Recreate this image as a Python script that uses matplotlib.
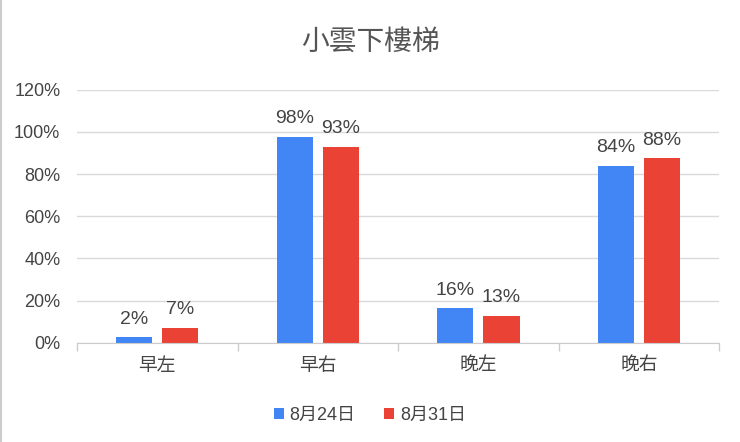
import matplotlib
matplotlib.use("Agg")
import matplotlib.pyplot as plt
from matplotlib.ticker import FixedLocator, PercentFormatter
import numpy as np

plt.rcParams['font.family'] = ['Liberation Sans', 'Noto Sans CJK TC', 'DejaVu Sans']

title = "小雲下樓梯"
categories = ["早左", "早右", "晚左", "晚右"]
series_names = ["8月24日", "8月31日"]
aug24 = [2.5, 97.7, 16.4, 84.0]
aug31 = [7.2, 93.0, 12.8, 87.5]
yticks = [0, 20, 40, 60, 80, 100, 120]

colors = ["#4285F4", "#EA4335"]
text_color = "#444444"

fig = plt.figure(figsize=(7.4, 4.42), dpi=100)
ax = fig.add_axes([0.104, 0.2247, 0.868, 0.5723])

x = np.arange(len(categories))
w = 0.225
off = 0.144
for vals, c, o, name in [(aug24, colors[0], -off, series_names[0]),
                         (aug31, colors[1], off, series_names[1])]:
    bars = ax.bar(x + o, vals, width=w, color=c, label=name, zorder=3)
    for b, v in zip(bars, vals):
        ax.text(b.get_x() + b.get_width() / 2, v + 4.4, f"{v:.0f}%",
                ha="center", va="bottom", fontsize=14, color=text_color,
                zorder=4)

ax.set_xlim(-0.5, len(categories) - 0.5)
ax.set_ylim(0, 120)
ax.set_yticks(yticks)
ax.yaxis.set_major_formatter(PercentFormatter(decimals=0))
ax.set_xticks(x)
ax.set_xticklabels(categories)
ax.xaxis.set_minor_locator(FixedLocator(np.arange(-0.5, len(categories), 1.0)))
ax.tick_params(axis="x", which="major", length=0, pad=11, labelsize=13.5,
               labelcolor=text_color)
ax.tick_params(axis="x", which="minor", length=6, width=1, color="#cccccc")
ax.tick_params(axis="y", length=0, pad=12, labelsize=13, labelcolor=text_color)
ax.grid(axis="y", color="#d9d9d9", linewidth=1, zorder=0)
for s in ["top", "right", "left"]:
    ax.spines[s].set_visible(False)
ax.spines["bottom"].set_color("#cccccc")
ax.spines["bottom"].set_zorder(5)

fig.text(0.5, 0.905, title, ha="center", va="center", fontsize=20,
         color="#555555", fontweight="light",
         family=['Noto Sans CJK TC', 'DejaVu Sans'])

leg = fig.legend(loc="center", bbox_to_anchor=(0.5, 0.06), ncol=2,
                 frameon=False, fontsize=13, handlelength=0.55,
                 handleheight=0.55, handletextpad=0.3, columnspacing=1.6)
for t in leg.get_texts():
    t.set_color(text_color)

fig.add_artist(plt.Line2D([0.001, 0.001], [0, 1], color="#cccccc",
                          linewidth=1.5, transform=fig.transFigure))

fig.savefig("out.png", dpi=100)
